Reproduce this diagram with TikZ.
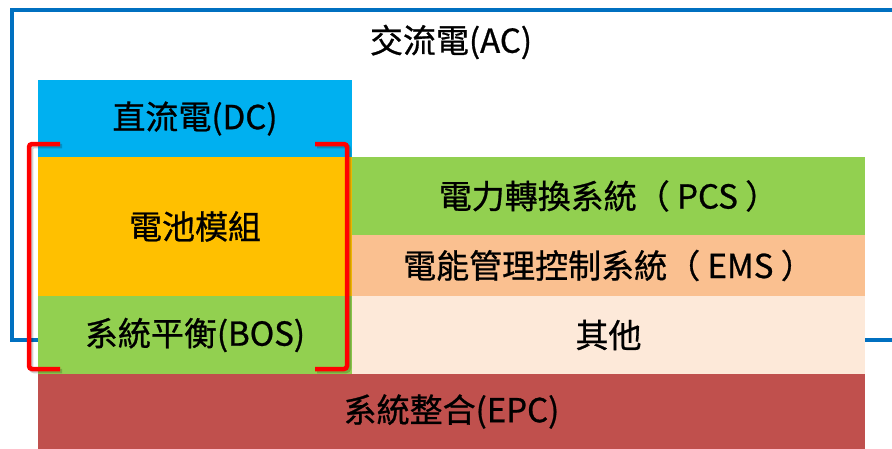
\documentclass[tikz,border=0pt]{standalone}
\usepackage{fontspec}
\newfontfamily\cjk[FakeBold=0.8]{Noto Sans CJK TC}
\definecolor{frameblue}{HTML}{0070C0}
\definecolor{dcblue}{HTML}{00B0F0}
\definecolor{batorange}{HTML}{FFC000}
\definecolor{bosgreen}{HTML}{92D050}
\definecolor{emsorange}{HTML}{FAC090}
\definecolor{otherpeach}{HTML}{FDE9D9}
\definecolor{epcred}{HTML}{C0504D}
\definecolor{brred}{HTML}{FF0000}
\tikzset{
  cell/.style={draw=none, inner sep=0pt, anchor=center, font=\cjk\fontsize{33}{39}\selectfont, text=black},
  bracketline/.style={draw=brred, line width=4.5pt, rounded corners=3pt},
  bracketshadow/.style={draw=black, opacity=0.18, line width=4.5pt, rounded corners=3pt},
}
\begin{document}
\begin{tikzpicture}[x=1pt,y=-1pt]
\useasboundingbox (0,0) rectangle (892,448);
\clip (0,0) rectangle (892,448);
\fill[white] (0,0) rectangle (892,448);
% outer AC frame (runs off the right edge)
\draw[frameblue, line width=4pt] (12,10) rectangle (920,340);
\node[cell] (ac) at (451,42) {交流電(AC)};
% left column
\node[cell, fill=dcblue, minimum width=314pt, minimum height=77pt] (dc) at (195,118.5) {直流電(DC)};
\node[cell, fill=batorange, minimum width=314pt, minimum height=139pt] (bat) at (195,226.5) {電池模組};
\node[cell, fill=bosgreen, minimum width=314pt, minimum height=78pt] (bos) at (195,335) {系統平衡(BOS)};
% right column
\node[cell, fill=bosgreen, minimum width=513pt, minimum height=78pt] (pcs) at (608.5,196) {電力轉換系統（ PCS ）};
\node[cell, fill=emsorange, minimum width=513pt, minimum height=61pt] (ems) at (608.5,265.5) {電能管理控制系統（ EMS ）};
\node[cell, fill=otherpeach, minimum width=513pt, minimum height=78pt] (other) at (608.5,335) {其他};
% bottom
\node[cell, fill=epcred, minimum width=827pt, minimum height=75pt] (epc) at (451.5,411.5) {系統整合(EPC)};
% red brackets
\draw[bracketshadow] (62,146) -- (31,146) -- (31,371) -- (62,371);
\draw[bracketshadow] (317,146) -- (349,146) -- (349,371) -- (317,371);
\draw[bracketline] (60,144) -- (29,144) -- (29,369) -- (60,369);
\draw[bracketline] (315,144) -- (347,144) -- (347,369) -- (315,369);
\end{tikzpicture}
\end{document}
